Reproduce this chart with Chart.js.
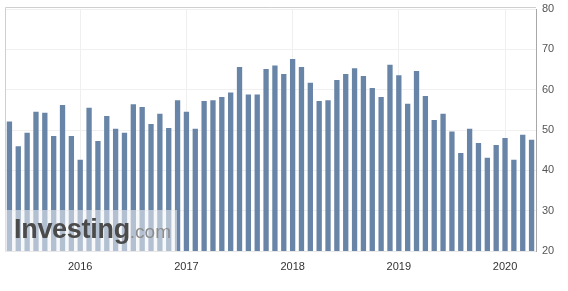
<!DOCTYPE html>
<html lang="en">

<head>
    <meta charset="UTF-8">
    <title>Monthly index</title>
    <script src="https://cdn.jsdelivr.net/npm/chart.js"></script>
    <style>
        body { margin: 0; background: #fff; }
        #wrap {
            position: relative;
            width: 568px;
            height: 291px;
        }
        /* watermark box bottom-left */
        #mark {
            position: absolute;
            left: 5px;
            top: 210px;
            width: 172px;
            height: 41px;
            background: rgba(240, 242, 245, 0.55);
            font-family: "Liberation Sans", Arial, sans-serif;
            white-space: nowrap;
        }
        #mark .big {
            position: absolute;
            left: 9px;
            top: 4px;
            font-size: 27px;
            font-weight: bold;
            color: #4b4b4b;
            letter-spacing: -0.3px;
        }
        #mark .small {
            font-size: 19px;
            font-weight: normal;
            color: #8c8c8c;
            letter-spacing: 0;
        }
    </style>
</head>

<body>

    <div id="wrap">
        <canvas id="myChart"></canvas>
        <div id="mark"><span class="big">Investing<span class="small">.com</span></span></div>
    </div>

    <script>
        // months, May 2015 - Apr 2020
        const months = [
            '2015-05', '2015-06', '2015-07', '2015-08', '2015-09', '2015-10', '2015-11', '2015-12',
            '2016-01', '2016-02', '2016-03', '2016-04', '2016-05', '2016-06', '2016-07', '2016-08', '2016-09', '2016-10', '2016-11', '2016-12',
            '2017-01', '2017-02', '2017-03', '2017-04', '2017-05', '2017-06', '2017-07', '2017-08', '2017-09', '2017-10', '2017-11', '2017-12',
            '2018-01', '2018-02', '2018-03', '2018-04', '2018-05', '2018-06', '2018-07', '2018-08', '2018-09', '2018-10', '2018-11', '2018-12',
            '2019-01', '2019-02', '2019-03', '2019-04', '2019-05', '2019-06', '2019-07', '2019-08', '2019-09', '2019-10', '2019-11', '2019-12',
            '2020-01', '2020-02', '2020-03', '2020-04'
        ];

        const values = [
            52.1, 46.0, 49.3, 54.5, 54.3, 48.5, 56.2, 48.5,
            42.6, 55.5, 47.3, 53.5, 50.3, 49.3, 56.4, 55.7, 51.5, 54.0, 50.5, 57.4,
            54.5, 50.3, 57.2, 57.4, 58.2, 59.3, 65.6, 58.8, 58.8, 65.1, 66.0, 63.9,
            67.6, 65.6, 61.7, 57.2, 57.4, 62.4, 63.9, 65.3, 63.4, 60.4, 58.2, 66.2,
            63.6, 56.5, 64.6, 58.4, 52.5, 54.0, 49.6, 44.3, 50.3, 46.8, 43.1, 46.3,
            48.0, 42.6, 48.8, 47.6
        ];

        const yTicks = [20, 30, 40, 50, 60, 70, 80];

        const isJan = (i) => months[i] && months[i].endsWith('-01');

        // thin frame on top and left of the plot
        const framePlugin = {
            id: 'frame',
            beforeDatasetsDraw(chart) {
                const { ctx, chartArea: a } = chart;
                ctx.save();
                ctx.strokeStyle = '#cfcfcf';
                ctx.lineWidth = 1;
                ctx.beginPath();
                ctx.moveTo(a.left + 0.5, a.bottom);
                ctx.lineTo(a.left + 0.5, a.top - 1.5);
                ctx.lineTo(a.right, a.top - 1.5);
                ctx.stroke();
                ctx.restore();
            }
        };

        const ctx = document.getElementById('myChart').getContext('2d');
        const myChart = new Chart(ctx, {
            type: 'bar',
            data: {
                labels: months,
                datasets: [{
                    data: values,
                    backgroundColor: '#6884a6',
                    borderWidth: 0,
                    barPercentage: 0.6,
                    categoryPercentage: 1.0
                }]
            },
            options: {
                responsive: true,
                maintainAspectRatio: false,
                animation: false,
                layout: { padding: { left: 5, top: 9, right: 0, bottom: 0 } },
                plugins: {
                    legend: { display: false },
                    tooltip: { enabled: false }
                },
                scales: {
                    x: {
                        grid: {
                            offset: false,
                            drawTicks: false,
                            color: (c) => isJan(c.index) ? '#efefef' : 'rgba(0,0,0,0)'
                        },
                        border: { color: '#e8e8e8' },
                        ticks: {
                            autoSkip: false,
                            maxRotation: 0,
                            padding: 9,
                            color: '#333',
                            font: { family: '"Liberation Sans", Arial, sans-serif', size: 11 },
                            callback: (v, i) => isJan(i) ? months[i].slice(0, 4) : ''
                        },
                        afterFit: (s) => { s.height = 40; }
                    },
                    y: {
                        position: 'right',
                        min: 20,
                        max: 80,
                        afterBuildTicks: (s) => { s.ticks = yTicks.map(v => ({ value: v })); },
                        grid: { drawTicks: false, color: '#f0f0f0' },
                        border: { color: '#a8a8a8' },
                        ticks: {
                            padding: 6,
                            color: '#555',
                            font: { family: '"Liberation Sans", Arial, sans-serif', size: 11 }
                        },
                        afterFit: (s) => { s.width = 32; s.paddingTop = 0; s.paddingBottom = 0; }
                    }
                }
            },
            plugins: [framePlugin]
        });
    </script>

</body>

</html>
